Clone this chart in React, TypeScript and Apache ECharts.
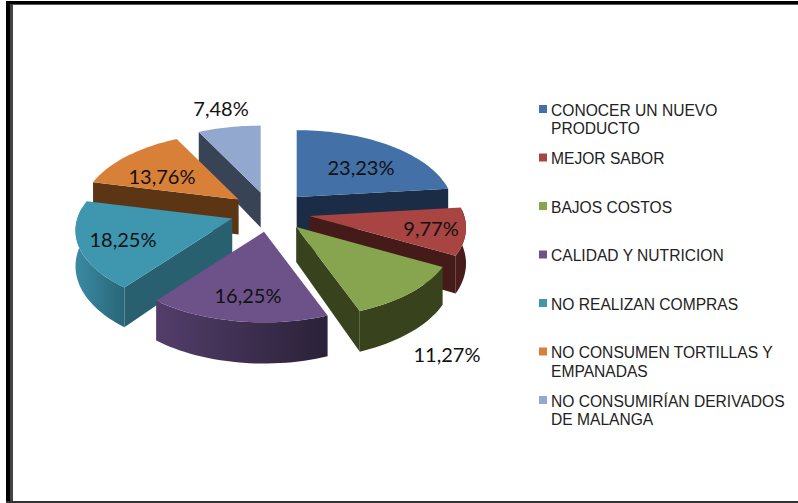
import React, { useEffect, useRef } from "react";
import * as echarts from "echarts";

const categories = [
  "CONOCER UN NUEVO\nPRODUCTO",
  "MEJOR SABOR",
  "BAJOS COSTOS",
  "CALIDAD Y NUTRICION",
  "NO REALIZAN COMPRAS",
  "NO CONSUMEN TORTILLAS Y\nEMPANADAS",
  "NO CONSUMIRÍAN DERIVADOS\nDE MALANGA",
];
const values = [23.23, 9.77, 11.27, 16.25, 18.25, 13.76, 7.48];
const labels = ["23,23%", "9,77%", "11,27%", "16,25%", "18,25%", "13,76%", "7,48%"];

const topColors = ["#4370A6", "#A84442", "#87A44E", "#6D5289", "#3F96AF", "#D98038", "#93A8CF"];
const radialColors = ["#1A2C46", "#451B1A", "#38431E", "#2B2138", "#286070", "#5C3515", "#394356"];
const wallLight = ["#1A2C46", "#4A1D1C", "#38431E", "#533E6B", "#3A8AA3", "#5C3515", "#394356"];
const wallDark = ["#1A2C46", "#451B1A", "#38431E", "#2B2138", "#2A6678", "#5C3515", "#394356"];

// painter's order, back to front
const drawOrder = [6, 0, 5, 1, 4, 2, 3];

const LAYOUT = {
  cx: 270,
  cy: 212,
  explode: 40,
  rx: 155,
  ry: 77,
  persp: 0.15,
  depth: 35,
};
const LABEL_XY: number[][] = [
  [361, 167],
  [431, 228],
  [447, 354],
  [248, 295],
  [123, 239],
  [162, 176],
  [221, 108],
];

const total = values.reduce((a, b) => a + b, 0);
const rad = (d: number) => (d * Math.PI) / 180;

function sliceAngles(i: number) {
  const before = values.slice(0, i).reduce((a, b) => a + b, 0);
  return [(before / total) * 360, ((before + values[i]) / total) * 360];
}

function project(ax: number, ay: number, deg: number, extra = 0) {
  const t = rad(deg);
  const z = Math.cos(t);
  const s = 1 / (1 + LAYOUT.persp * z);
  return [ax + LAYOUT.rx * Math.sin(t) * s, ay - LAYOUT.ry * z * s + extra * s];
}

function arcPoints(ax: number, ay: number, a: number, b: number, extra = 0) {
  const pts: number[][] = [];
  const n = Math.max(2, Math.ceil(Math.abs(b - a) / 2));
  for (let k = 0; k <= n; k++) pts.push(project(ax, ay, a + ((b - a) * k) / n, extra));
  return pts;
}

function renderSlice(_: any, api: any) {
  const i = api.value(0) as number;
  const [a, b] = sliceAngles(i);
  const mid = rad((a + b) / 2);
  const ax = LAYOUT.cx + LAYOUT.explode * Math.sin(mid);
  const ay = LAYOUT.cy - (LAYOUT.explode * Math.cos(mid)) / 2;
  const d = LAYOUT.depth;
  const children: any[] = [];
  const radial = (deg: number) => {
    const p = project(ax, ay, deg);
    const q = project(ax, ay, deg, d);
    children.push({
      type: "polygon",
      shape: { points: [[ax, ay], p, q, [ax, ay + d]] },
      style: { fill: radialColors[i] },
    });
  };
  if (Math.sin(rad(a)) < 0) radial(a);
  if (Math.sin(rad(b)) > 0) radial(b);
  const wa = Math.max(a, 85);
  const wb = Math.min(b, 278);
  if (wb > wa) {
    children.push({
      type: "polygon",
      shape: { points: [...arcPoints(ax, ay, wa, wb), ...arcPoints(ax, ay, wb, wa, d)] },
      style: {
        fill: new echarts.graphic.LinearGradient(0, 0, 1, 0, [
          { offset: 0, color: wallLight[i] },
          { offset: 1, color: wallDark[i] },
        ]),
      },
    });
  }
  children.push({
    type: "polygon",
    shape: { points: [[ax, ay], ...arcPoints(ax, ay, a, b)] },
    style: { fill: topColors[i] },
  });
  return { type: "group", children };
}

const labelFont = 'Lato, "Open Sans", sans-serif';
const legendFont = '"Liberation Sans", Arial, sans-serif';

function buildGraphic() {
  const g: any[] = [
    { type: "rect", shape: { x: 0, y: 0, width: 798, height: 503 }, style: { fill: "#fff" }, z: -10 },
    { type: "rect", shape: { x: 6, y: 1, width: 792, height: 3 }, style: { fill: "#000" } },
    { type: "rect", shape: { x: 10, y: 4, width: 788, height: 1 }, style: { fill: "#555" } },
    { type: "rect", shape: { x: 6, y: 1, width: 4, height: 502 }, style: { fill: "#000" } },
    { type: "rect", shape: { x: 10, y: 4, width: 3, height: 499 }, style: { fill: "#444" } },
    { type: "rect", shape: { x: 6, y: 501, width: 792, height: 2 }, style: { fill: "#333" } },
  ];
  categories.forEach((name, i) => {
    const y = 109 + i * 48.5;
    g.push({ type: "rect", shape: { x: 539, y: y - 4, width: 8, height: 8 }, style: { fill: topColors[i] } });
    g.push({
      type: "text",
      x: 551,
      y: y - 8,
      style: { text: name, fill: "#222", font: `15.6px ${legendFont}`, lineHeight: 18.5, textVerticalAlign: "top" },
    });
  });
  labels.forEach((t, i) => {
    g.push({
      type: "text",
      x: LABEL_XY[i][0],
      y: LABEL_XY[i][1],
      z: 20,
      style: { text: t, fill: "#111", font: `20px ${labelFont}`, textAlign: "center", textVerticalAlign: "middle" },
    });
  });
  return g;
}

export default function App() {
  const ref = useRef<HTMLDivElement>(null);
  useEffect(() => {
    document.body.style.margin = "0";
    const chart = echarts.init(ref.current!, null, { renderer: "svg" });
    chart.setOption({
      animation: false,
      backgroundColor: "#fff",
      series: [
        {
          type: "custom",
          coordinateSystem: "none",
          renderItem: renderSlice,
          data: drawOrder.map((i) => ({ name: categories[i], value: [i, values[i]] })),
          z: 2,
        },
      ],
      graphic: buildGraphic(),
    });
    return () => chart.dispose();
  }, []);
  return <div ref={ref} style={{ width: 798, height: 503 }} />;
}
